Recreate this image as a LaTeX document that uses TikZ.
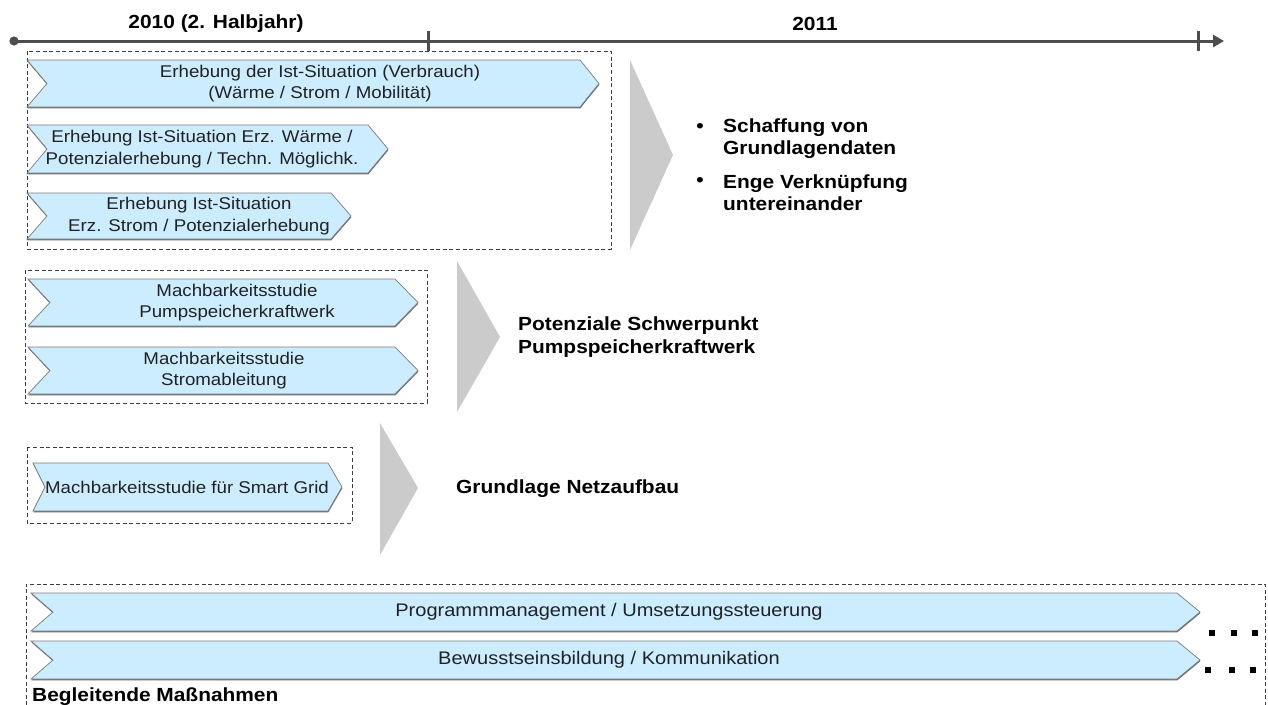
\documentclass[tikz,border=0pt]{standalone}
\usepackage{fontspec}
\setmainfont{Liberation Sans}[FakeStretch=1.1]
\usetikzlibrary{arrows.meta}

\definecolor{chevfill}{HTML}{CCECFF}
\definecolor{chevline}{HTML}{7A7A7A}
\definecolor{chevshade}{HTML}{6A6A6A}
\definecolor{axisgray}{HTML}{4D4D4D}
\definecolor{boxline}{HTML}{3C3C3C}
\definecolor{resultgray}{HTML}{CBCBCB}
\definecolor{txt}{HTML}{222222}

\tikzset{
  chevbody/.style={fill=chevfill, draw=chevline, line width=0.7pt, line join=miter},
  chevtext/.style={font=\fontsize{17}{21.5}\selectfont, align=center, inner sep=0pt, text=txt},
  widetext/.style={chevtext, font=\fontsize{18.2}{21.5}\selectfont},
  boldlabel/.style={font=\fontsize{19}{22.5}\selectfont\bfseries, inner sep=0pt, text=black},
  groupbox/.style={draw=boxline, line width=0.9pt, dash pattern=on 4pt off 2.6pt},
  resultwedge/.style={fill=resultgray},
  axisline/.style={draw=axisgray, line width=3pt},
  dotmark/.style={fill=black}
}

% chevron: left x, top y, tip x, bottom y, notch depth, tip depth
\newcommand{\chevron}[6]{%
  \fill[chevshade, shift={(0.3,1.3)}] (#1,#2) -- ({#3-#6},#2) -- (#3,{(#2+#4)/2}) -- ({#3-#6},#4) -- (#1,#4) -- ({#1+#5},{(#2+#4)/2}) -- cycle;
  \path[chevbody] (#1,#2) -- ({#3-#6},#2) -- (#3,{(#2+#4)/2}) -- ({#3-#6},#4) -- (#1,#4) -- ({#1+#5},{(#2+#4)/2}) -- cycle;}

\begin{document}
\begin{tikzpicture}[x=1pt, y=-1pt]
\clip (0,0) rectangle (1268,704);
\fill[white] (0,0) rectangle (1268,704);

% time axis
\coordinate (axisstart) at (14,41);
\coordinate (axisend) at (1224,41);
\draw[axisline, -{Triangle[length=11pt,width=12pt]}] (axisstart) -- (axisend);
\fill[axisgray] (axisstart) circle (4.6);
\draw[axisline] (428,31) -- (428,51);
\draw[axisline] (1198,31) -- (1198,51);
\node[boldlabel] (y2010) at (216,24) {2010 (2. Halbjahr)};
\node[boldlabel] (y2011) at (815,24) {2011};

% group 1: data collection
\draw[groupbox] (27,51) rectangle (611,249);
\chevron{27}{60}{599}{107}{20}{19}
\node[chevtext] (c1) at (320,83.5) {Erhebung der Ist-Situation (Verbrauch)\\(Wärme / Strom / Mobilität)};
\chevron{27}{125}{388}{173}{20}{20}
\node[chevtext] (c2) at (202,149) {Erhebung Ist-Situation Erz. Wärme /\\Potenzialerhebung / Techn. Möglichk.};
\chevron{27}{193}{351}{239}{20}{20}
\node[chevtext] (c3) at (199,216) {Erhebung Ist-Situation\\Erz. Strom / Potenzialerhebung};
\fill[resultwedge] (630,60) -- (673,155) -- (630,250) -- cycle;
\node[boldlabel] (r1dot) at (700,128) {•};
\node[boldlabel, anchor=west, align=left] (r1a) at (723,138.5) {Schaffung von\\Grundlagendaten};
\node[boldlabel] (r1dotb) at (700,182) {•};
\node[boldlabel, anchor=west, align=left] (r1b) at (723,192.5) {Enge Verknüpfung\\untereinander};

% group 2: pumped storage studies
\draw[groupbox] (25,270) rectangle (427,403);
\chevron{28}{279}{418}{326}{22}{23}
\node[chevtext] (c4) at (237,302.5) {Machbarkeitsstudie\\Pumpspeicherkraftwerk};
\chevron{28}{347}{418}{394}{22}{23}
\node[chevtext] (c5) at (224,370.5) {Machbarkeitsstudie\\Stromableitung};
\fill[resultwedge] (457,261) -- (500,337) -- (457,412) -- cycle;
\node[boldlabel, anchor=west, align=left] (r2) at (518,337) {Potenziale Schwerpunkt\\Pumpspeicherkraftwerk};

% group 3: smart grid
\draw[groupbox] (27,447) rectangle (352,523);
\chevron{33}{463}{342}{511}{12}{14}
\node[chevtext] (c6) at (187,487) {Machbarkeitsstudie für Smart Grid};
\fill[resultwedge] (380,423) -- (418,488) -- (380,555) -- cycle;
\node[boldlabel, anchor=west] (r3) at (456,489) {Grundlage Netzaufbau};

% accompanying measures
\draw[groupbox] (26,712) -- (26,584) -- (1265,584) -- (1265,712);
\chevron{31}{593}{1200}{631}{22}{23}
\node[widetext] (c7) at (609,612) {Programmmanagement / Umsetzungssteuerung};
\chevron{31}{641}{1200}{679}{22}{23}
\node[widetext] (c8) at (609,660) {Bewusstseinsbildung / Kommunikation};
\foreach \x in {1212,1234,1255} {\fill[dotmark] (\x-3,630) rectangle (\x+3,636);}
\foreach \x in {1208,1232,1253} {\fill[dotmark] (\x-3,667) rectangle (\x+3,673);}
\node[boldlabel, anchor=west] (accomp) at (32,697) {Begleitende Maßnahmen};
\end{tikzpicture}
\end{document}
